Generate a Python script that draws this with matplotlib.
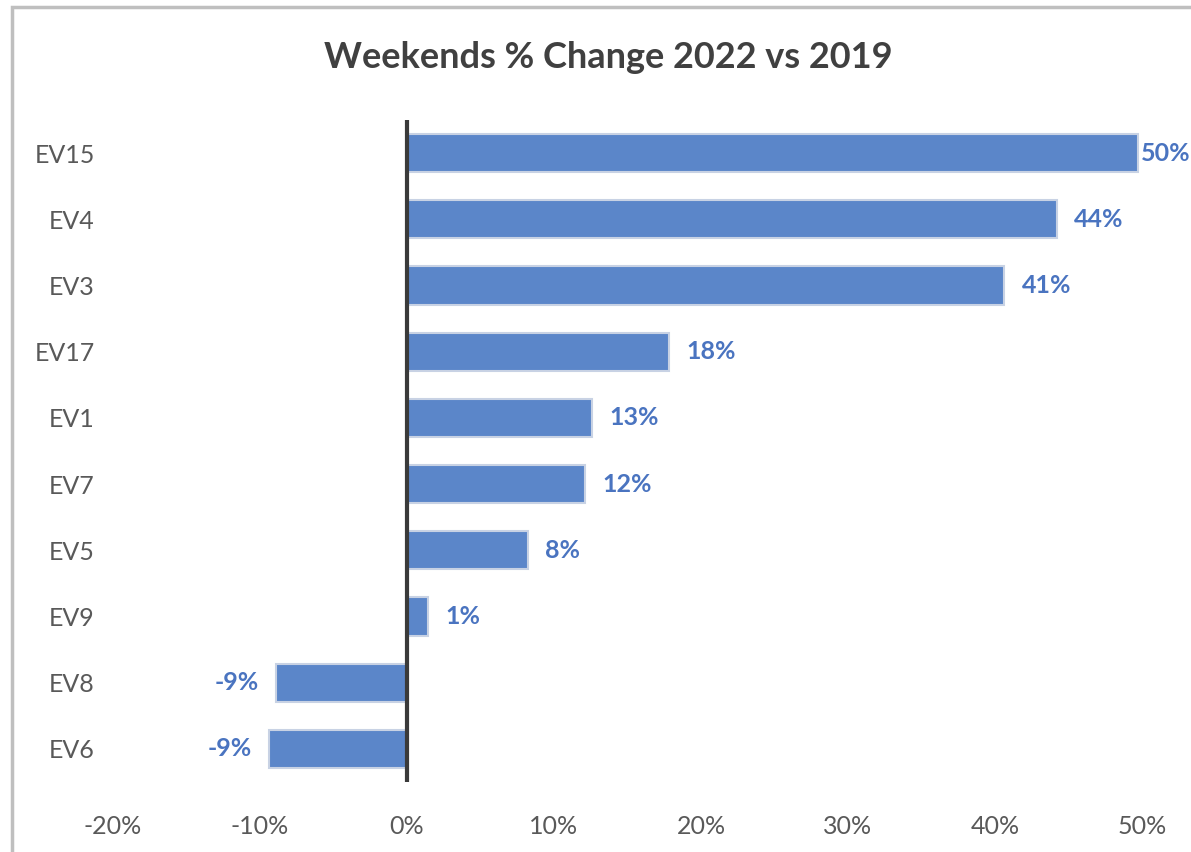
import matplotlib.pyplot as plt
from matplotlib.patches import Rectangle

plt.rcParams['font.family'] = ['Lato', 'DejaVu Sans']

categories = ['EV15', 'EV4', 'EV3', 'EV17', 'EV1', 'EV7', 'EV5', 'EV9', 'EV8', 'EV6']
values = [49.7, 44.2, 40.6, 17.8, 12.6, 12.1, 8.2, 1.4, -8.9, -9.4]
labels = ['50%', '44%', '41%', '18%', '13%', '12%', '8%', '1%', '-9%', '-9%']
xticks = [-20, -10, 0, 10, 20, 30, 40, 50]

W, H = 1191, 852
fig = plt.figure(figsize=(W / 100, H / 100), dpi=100)
# axes box in pixels: left 113, right 1142, top 120, bottom 782
ax = fig.add_axes([113 / W, 1 - 782 / H, (1142 - 113) / W, (782 - 120) / H])

ypos = list(range(len(categories)))
ax.barh(ypos, values, height=0.58, color='#5b86c9', edgecolor='#c8d2e4', linewidth=1.5)
ax.set_ylim(len(categories) - 0.5, -0.5)
ax.set_xlim(-20, 50)

ax.axvline(0, color='#3a3a3a', linewidth=3, zorder=3)

for y, v, lab in zip(ypos, values, labels):
    if v >= 0:
        ax.text(min(v + 1.2, 49.95), y, lab, ha='left', va='center',
                fontsize=18, fontweight='bold', color='#4a74c0', clip_on=False)
    else:
        ax.text(v - 1.15, y, lab, ha='right', va='center',
                fontsize=18, fontweight='bold', color='#4a74c0')

ax.set_yticks(ypos)
ax.set_yticklabels(categories)
ax.set_xticks(xticks)
ax.set_xticklabels([f'{t}%' for t in xticks])
ax.tick_params(axis='both', length=0, labelsize=18, colors='#595959')
ax.tick_params(axis='y', pad=13)
ax.tick_params(axis='x', pad=24)
for s in ax.spines.values():
    s.set_visible(False)

fig.text(608 / W, 1 - 57 / H, 'Weekends % Change 2022 vs 2019', ha='center', va='center',
         fontsize=26, fontweight='bold', color='#404040')

# chart border (cropped at right and bottom)
fig.patches.append(Rectangle((12 / W, -0.05), 1.1, 1 - 7 / H + 0.05, transform=fig.transFigure,
                             fill=False, edgecolor='#bfbfbf', linewidth=2.5))

fig.savefig('out.png', dpi=100)
